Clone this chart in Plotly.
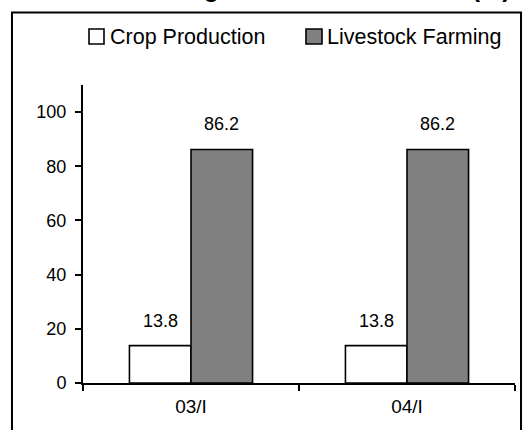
import plotly.graph_objects as go

# Share of agricultural output by branch, in percent
periods = ["03/I", "04/I"]
crop_production = [13.8, 13.8]
livestock_farming = [86.2, 86.2]
y_ticks = [0, 20, 40, 60, 80, 100]
series_names = ["Crop Production", "Livestock Farming"]
series_fill = ["white", "#808080"]

FONT = "Arial, Liberation Sans, sans-serif"

fig = go.Figure()
for name, vals, fill in zip(series_names, (crop_production, livestock_farming), series_fill):
    fig.add_trace(go.Bar(
        name=name, x=periods, y=vals,
        marker=dict(color=fill, line=dict(color="black", width=1.6)),
    ))

# value labels above each bar
bar_px = 61.5
for series, shift in ((crop_production, -bar_px / 2), (livestock_farming, bar_px / 2)):
    for p, v in zip(periods, series):
        fig.add_annotation(
            x=p, y=v, xref="x", yref="y", text=f"{v:.1f}", showarrow=False,
            xshift=shift, yshift=13, yanchor="bottom",
            font=dict(family=FONT, size=18, color="black"),
        )

# title, sitting largely above the top edge of the page
fig.add_annotation(
    x=0.444, y=1.2725, xref="paper", yref="paper", yanchor="bottom", xanchor="center",
    text="<b>Structure of Agricultural Production (%)</b>", showarrow=False,
    font=dict(family=FONT, size=25, color="black"),
)

# legend row drawn as key squares plus labels
legend_keys = [(0.0139, 0.0486, 0.0579), (0.5162, 0.5532, 0.5602)]
for (kx0, kx1, tx), name, fill in zip(legend_keys, series_names, series_fill):
    fig.add_shape(
        type="rect", xref="paper", yref="paper",
        x0=kx0, x1=kx1, y0=1.1376, y1=1.1879,
        line=dict(color="black", width=1.6), fillcolor=fill,
    )
    fig.add_annotation(
        x=tx, y=1.1611, xref="paper", yref="paper", xanchor="left", yanchor="middle",
        text=name, showarrow=False,
        font=dict(family=FONT, size=21.5, color="black"),
    )

# frame around the chart
fig.add_shape(
    type="rect", xref="paper", yref="paper",
    x0=-0.1644, x1=1.0139, y0=-0.25, y1=1.2433,
    line=dict(color="black", width=2), fillcolor="rgba(0,0,0,0)",
)

fig.update_layout(
    width=523, height=430,
    margin=dict(l=83, r=8, t=85, b=47, autoexpand=False),
    paper_bgcolor="white", plot_bgcolor="white",
    barmode="group", bargap=0.43, bargroupgap=0,
    font=dict(family=FONT, size=18, color="black"),
    showlegend=False,
    xaxis=dict(
        showline=True, linecolor="black", linewidth=2,
        ticks="outside", tickson="boundaries", ticklen=6, tickwidth=2, tickcolor="black",
        showgrid=False, zeroline=False, tickfont=dict(size=19), ticklabelstandoff=5,
    ),
    yaxis=dict(
        range=[0, 110], tickvals=y_ticks,
        showline=True, linecolor="black", linewidth=2,
        ticks="outside", ticklen=6, tickwidth=2, tickcolor="black",
        showgrid=False, zeroline=False, tickfont=dict(size=18), ticklabelstandoff=5,
    ),
)

fig.write_html("out.html")
